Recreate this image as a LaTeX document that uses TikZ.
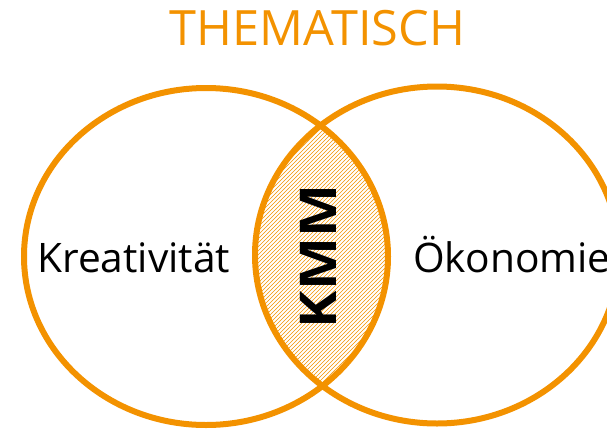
\documentclass[tikz,border=0pt]{standalone}
\usepackage{fontspec}
\setmainfont{Open Sans}
\usetikzlibrary{patterns}
\definecolor{kmmorange}{RGB}{243,146,0}
\tikzset{
	venn/.style={draw=kmmorange, line width=4.5pt},
	feld/.style={inner sep=0pt, font=\fontsize{30.5}{36}\selectfont},
}
\begin{document}
\begin{tikzpicture}[x=0.75pt,y=0.75pt,yscale=-1,xscale=1]
	\useasboundingbox (0,0) rectangle (607,429);
	% Schnittmenge schraffiert
	\begin{scope}
		\clip (206,256.5) ellipse (182 and 168.5);
		\fill [pattern=north east lines, pattern color=kmmorange] (437,255) ellipse (182 and 168.5);
	\end{scope}
	\draw [venn] (206,256.5) ellipse (182 and 168.5);
	\draw [venn] (437,255) ellipse (182 and 168.5);

	\node (titel) [anchor=base, inner sep=0pt, text=kmmorange, font=\fontsize{36.5}{42}\selectfont] at (317.5,45) {THEMATISCH};
	\node (kreativ) [feld, anchor=base west] at (37,272) {Kreativität};
	\node (oekonomie) [feld, anchor=base west] at (413,272) {Ökonomie};
	\node (kmm) [inner sep=0pt, rotate=90, font=\fontsize{38}{46}\selectfont\bfseries] at (318,256.5) {\scalebox{1.11}[1]{KMM}};
\end{tikzpicture}
\end{document}
